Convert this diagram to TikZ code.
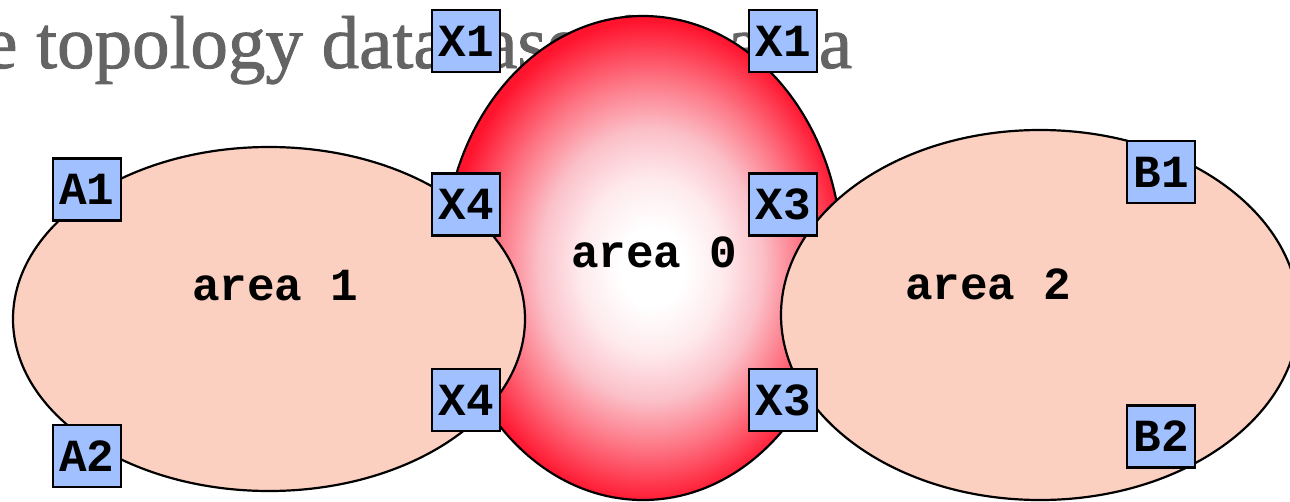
\documentclass[tikz,border=0pt]{standalone}
\usepackage{fontspec}
\setmainfont{Liberation Serif}
\newfontfamily\monob{Liberation Mono}
\newfontfamily\titlefont[FakeBold=1.2]{Liberation Serif}
\usetikzlibrary{shapes.geometric}
\definecolor{peach}{RGB}{251,208,192}
\definecolor{boxblue}{RGB}{160,192,255}
\definecolor{redzero}{RGB}{255,20,46}
\definecolor{pkone}{RGB}{254,234,237}
\definecolor{pktwo}{RGB}{251,192,200}
\definecolor{pkthree}{RGB}{253,118,133}
\definecolor{titlegray}{RGB}{100,100,100}
\pgfdeclareradialshading{areazero}{\pgfpoint{1.3bp}{-1bp}}{color(0bp)=(white); color(4bp)=(white); color(9bp)=(pkone); color(14bp)=(pktwo); color(19bp)=(pkthree); color(25bp)=(redzero); color(50bp)=(redzero)}
\begin{document}
\begin{tikzpicture}[x=1pt,y=-1pt,
  rbox/.style={draw=black, line width=2.4pt, fill=boxblue, minimum width=68pt, minimum height=62pt, inner sep=0pt, font=\monob\bfseries\fontsize{46}{46}\selectfont},
  arealabel/.style={font=\monob\bfseries\fontsize{46}{46}\selectfont, anchor=base, inner sep=0pt},
  areashape/.style={draw=black, line width=2.2pt}]
\useasboundingbox (0,0) rectangle (1290,501);
\node[anchor=base west, inner sep=0pt, text=titlegray, font=\titlefont\fontsize{75}{75}\selectfont] (title) at (-16,68) {e topology database\hspace{0.4em}for\hspace{0.4em}area};
\shadedraw[shading=areazero, draw=black, line width=2.2pt] (643,258) ellipse [x radius=199pt, y radius=242pt];
\filldraw[areashape, fill=peach] (269,319) ellipse [x radius=256pt, y radius=172pt];
\filldraw[areashape, fill=peach] (1040,315) ellipse [x radius=259pt, y radius=185pt];
\node[arealabel] (a0) at (654,267) {area 0};
\node[arealabel] (a1) at (275,300) {area 1};
\node[arealabel] (a2) at (988,299) {area 2};
\node[rbox] (x1l) at (466,41) {X1};
\node[rbox] (x1r) at (783,41) {X1};
\node[rbox] (x4u) at (466,204.5) {X4};
\node[rbox] (x3u) at (783,204.5) {X3};
\node[rbox] (x4d) at (466,400) {X4};
\node[rbox] (x3d) at (783,400) {X3};
\node[rbox] (a1b) at (87,189.5) {A1};
\node[rbox] (a2b) at (87,456) {A2};
\node[rbox] (b1b) at (1161,172) {B1};
\node[rbox] (b2b) at (1161,436.5) {B2};
\end{tikzpicture}
\end{document}
